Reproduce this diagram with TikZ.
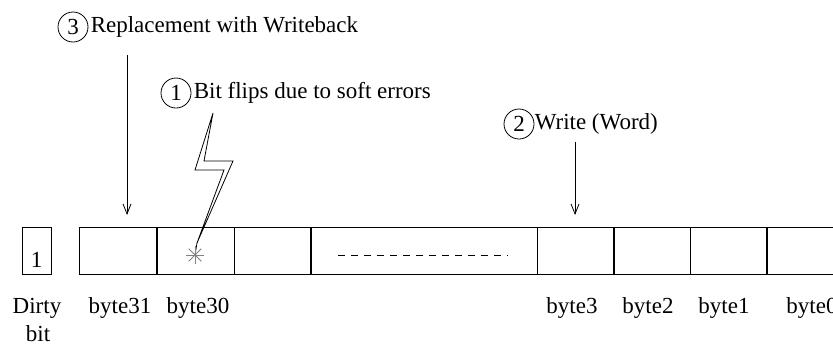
\documentclass[tikz,border=0pt]{standalone}
\usepackage{fontspec}
\setmainfont{Liberation Serif}
\usetikzlibrary{arrows.meta}

\tikzset{
	bytecell/.style={draw, inner sep=0pt, minimum width=38.5pt, minimum height=23.5pt, anchor=north west},
	stepnum/.style={draw, circle, inner sep=0pt, minimum size=15pt},
	caption/.style={anchor=west, inner sep=1pt},
	bytename/.style={anchor=base},
	pointer/.style={-{Straight Barb[length=5pt, width=4pt]}},
}

\begin{document}
\begin{tikzpicture}[x=0.5pt, y=-0.5pt, font=\fontsize{11.5}{14}\selectfont]
		\useasboundingbox (0,0) rectangle (833,343);

		% Dirty bit
		\node[bytecell, minimum width=14.5pt] (dirty) at (22,227) {};
		\node[bytename] (dirtyval) at (36.5,267) {1};

		% Bytes of the cache line
		\node[bytecell] (b31) at (79,227) {};
		\node[bytecell] (b30) at (157,227) {};
		\node[bytecell] (b29) at (234,227) {};
		\node[bytecell, minimum width=113.5pt] (bmid) at (310,227) {};
		\node[bytecell] (b3) at (537,227) {};
		\node[bytecell] (b2) at (613,227) {};
		\node[bytecell] (b1) at (690,227) {};
		\node[bytecell] (b0) at (766,227) {};
		\draw[dash pattern=on 3.5pt off 3pt] (338,255) -- (508,255);

		% Names below the line
		\node[bytename] (ldirty) at (37,313) {Dirty};
		\node[bytename] (lbit) at (38,341) {bit};
		\node[bytename] (l31) at (120,313) {byte31};
		\node[bytename] (l30) at (198,313) {byte30};
		\node[bytename] (l3) at (572,313) {byte3};
		\node[bytename] (l2) at (648,313) {byte2};
		\node[bytename] (l1) at (724,313) {byte1};
		\node[bytename] (l0) at (812,313) {byte0};

		% Numbered events
		\node[stepnum] (n3) at (73,27) {3};
		\node[caption] (t3) at (n3.east) {Replacement with Writeback};
		\node[stepnum] (n1) at (176,93) {1};
		\node[caption] (t1) at (n1.east) {Bit flips due to soft errors};
		\node[stepnum] (n2) at (519,124) {2};
		\node[caption, xshift=-1pt] (t2) at (n2.east) {Write (Word)};

		% Arrows onto the line
		\coordinate (wbtop) at (127,55);
		\coordinate (wbend) at (127,215);
		\draw[pointer] (wbtop) -- (wbend);
		\coordinate (wrtop) at (575,142);
		\coordinate (wrend) at (575,215);
		\draw[pointer] (wrtop) -- (wrend);

		% Lightning bolt and flipped bit
		\coordinate (flip) at (195,255);
		\draw[line join=miter] (213,113) -- (195,170) -- (224,170) -- (197,243) -- (233,161) -- (204,161) -- cycle;
		\draw (197,243) -- (flip);
		\foreach \a in {0,45,90,135}
			\draw[gray] ([shift={(\a:9)}]flip) -- ([shift={(\a+180:9)}]flip);

	\end{tikzpicture}
\end{document}
